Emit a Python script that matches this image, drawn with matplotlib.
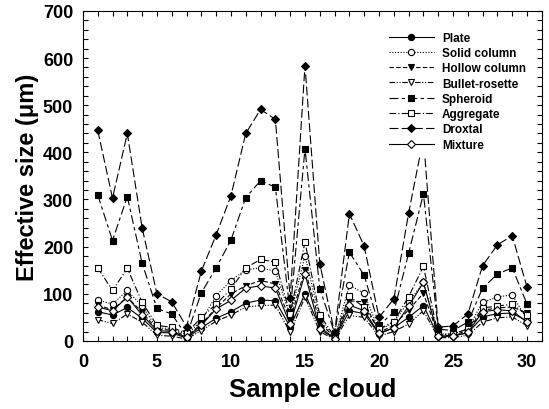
import matplotlib.pyplot as plt
from matplotlib.ticker import MultipleLocator

plt.rcParams['font.family'] = ['Liberation Sans', 'DejaVu Sans']
plt.rcParams['font.weight'] = 'bold'

samples = list(range(1, 31))

plate = [62, 55, 71, 48, 18, 17, 6, 28, 48, 62, 80, 87, 85, 30, 100,
         30, 5, 64, 58, 15, 28, 50, 75, 10, 11, 17, 51, 58, 59, 42]
solid_column = [87, 78, 107, 74, 27, 27, 13, 43, 96, 128, 151, 155, 148, 52, 181,
                47, 6, 118, 101, 22, 40, 83, 124, 15, 15, 26, 82, 93, 98, 45]
hollow_column = [76, 66, 93, 61, 25, 23, 10, 36, 70, 100, 117, 128, 121, 45, 151,
                 40, 6, 85, 83, 18, 33, 66, 101, 12, 12, 22, 65, 70, 72, 59]
bullet_rosette = [45, 37, 57, 40, 12, 10, 4, 22, 42, 55, 72, 75, 76, 18, 93,
                  20, 3, 54, 50, 10, 20, 36, 64, 7, 7, 12, 40, 49, 51, 32]
spheroid = [310, 213, 306, 165, 69, 57, 11, 102, 155, 214, 304, 340, 326, 61, 408,
            111, 17, 188, 139, 33, 61, 186, 312, 25, 22, 40, 112, 142, 155, 78]
aggregate = [155, 107, 154, 82, 33, 29, 16, 50, 78, 110, 155, 173, 167, 57, 210,
             55, 9, 95, 71, 25, 41, 94, 158, 13, 15, 25, 70, 74, 78, 55]
droxtal = [447, 303, 440, 240, 100, 83, 30, 148, 225, 308, 440, 491, 470, 91, 584,
           164, 17, 270, 201, 50, 89, 271, 430, 29, 32, 57, 160, 204, 223, 114]
mixture = [72, 64, 93, 55, 22, 20, 8, 33, 68, 86, 112, 117, 112, 35, 142,
           25, 5, 76, 64, 16, 28, 74, 124, 10, 10, 18, 62, 66, 64, 40]

series = [
    ('Plate', plate, 'o', 'k', '-'),
    ('Solid column', solid_column, 'o', 'w', (0, (1, 1.5))),
    ('Hollow column', hollow_column, 'v', 'k', (0, (4, 2))),
    ('Bullet-rosette', bullet_rosette, 'v', 'w', (0, (5, 1.5, 1, 1.5, 1, 1.5))),
    ('Spheroid', spheroid, 's', 'k', (0, (8, 3, 3, 3))),
    ('Aggregate', aggregate, 's', 'w', (0, (6, 2, 1, 2))),
    ('Droxtal', droxtal, 'D', 'k', (0, (8, 3))),
    ('Mixture', mixture, 'D', 'w', '-'),
]

fig = plt.figure(figsize=(5.49, 4.10), dpi=100)
ax = fig.add_axes([0.151, 0.166, 0.836, 0.805])

for name, vals, mk, fc, ls in series:
    ms = 3.8 if mk == 'D' else 4.5
    ax.plot(samples, vals, linestyle=ls, color='k', lw=0.8, marker=mk,
            markersize=ms, markerfacecolor=fc, markeredgecolor='k',
            markeredgewidth=0.8, label=name)

ax.set_xlim(0, 31)
ax.set_ylim(0, 700)
ax.xaxis.set_major_locator(MultipleLocator(5))
ax.xaxis.set_minor_locator(MultipleLocator(1))
ax.yaxis.set_major_locator(MultipleLocator(100))
ax.yaxis.set_minor_locator(MultipleLocator(20))
ax.tick_params(which='both', direction='in', top=True, right=True,
               length=3.5, width=0.8, labelsize=13)
ax.tick_params(axis='x', pad=9)
ax.tick_params(axis='y', pad=7)
for lab in ax.get_xticklabels() + ax.get_yticklabels():
    lab.set_fontweight('bold')
for sp in ax.spines.values():
    sp.set_linewidth(0.8)

ax.set_xlabel('Sample cloud', fontsize=18.5, fontweight='bold', labelpad=5)
ax.set_ylabel('Effective size (\u03bcm)', fontsize=17, fontweight='bold', labelpad=3)

leg = ax.legend(loc='upper right', bbox_to_anchor=(0.972, 0.946), fontsize=8.5,
                frameon=True, framealpha=1, edgecolor='white', facecolor='white',
                handlelength=3.8, labelspacing=0.28, borderpad=0.25,
                handletextpad=0.7, borderaxespad=0)
for t in leg.get_texts():
    t.set_fontweight('bold')
leg.set_zorder(5)

fig.savefig('out.png', dpi=100)
